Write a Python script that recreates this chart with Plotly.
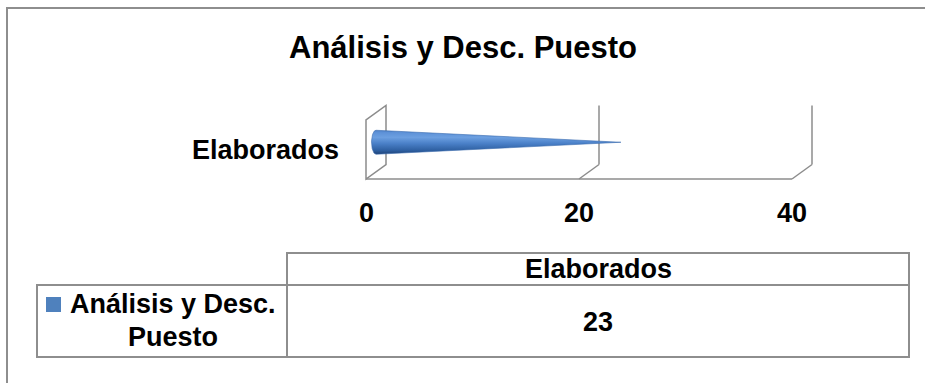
import textwrap

import numpy as np
import plotly.graph_objects as go

# ---- data -------------------------------------------------------------
CHART_TITLE = "Análisis y Desc. Puesto"
categories = ["Elaborados"]
series_name = "Análisis y Desc. Puesto"
values = [23]
x_ticks = [0, 20, 40]
x_tick_labels = ["0", "20", "40"]

# ---- styling ----------------------------------------------------------
W, H = 925, 383
FONT = "Liberation Sans, Arial, sans-serif"
BLUE = "#4F81BD"
GRID = "#8C8C8C"
BORDER = "#8E8E8E"
TXT = "#000000"

# value axis (front plane): pixels per unit and pixel position of zero
PX_PER_UNIT = 10.65
X0_PX = 366
x_range = [(0 - X0_PX) / PX_PER_UNIT, (W - X0_PX) / PX_PER_UNIT]

# category axis measured in pixels, zero on the cone's centre line
Y0_PX = 142.25
y_range = [Y0_PX - H, Y0_PX]

# 3-D box geometry
DEPTH_X = 20 / PX_PER_UNIT
DEPTH_Y = 14.5
HALF_WALL = 29.5
FRONT_C = -DEPTH_Y / 2
BACK_C = DEPTH_Y / 2
CONE_R = 12
CONE_RX = 4.5 / PX_PER_UNIT


def px(p):
    return p / W


def py(p):
    return 1 - p / H


fig = go.Figure()

# cone marks, one per category
for i, (cat, val) in enumerate(zip(categories, values)):
    xb = DEPTH_X / 2
    yc = -i * 2 * HALF_WALL
    theta = np.linspace(np.pi / 2, 3 * np.pi / 2, 40)
    cx = list(xb + CONE_RX * np.cos(theta)) + [xb + val, xb]
    cy = list(yc + CONE_R * np.sin(theta)) + [yc, yc + CONE_R]
    fig.add_trace(go.Scatter(
        x=cx, y=cy, mode="lines", fill="toself",
        line=dict(width=0.6, color="#3A6BAE"),
        fillgradient=dict(
            type="vertical",
            colorscale=[[0.0, "#1E4176"], [0.15, "#2D5E9F"], [0.45, "#4A80C8"],
                        [0.7, "#6C9FE0"], [0.9, "#5E92D8"], [1.0, "#4D80C6"]],
        ),
        hoverinfo="skip", showlegend=False, name=series_name,
    ))

shapes = []
gl = dict(color=GRID, width=1.5)

# left wall at zero
f_bot, f_top = FRONT_C - HALF_WALL, FRONT_C + HALF_WALL
b_bot, b_top = BACK_C - HALF_WALL, BACK_C + HALF_WALL
shapes.append(dict(
    type="path", xref="x", yref="y", layer="below", line=gl,
    path=(f"M {x_ticks[0]},{f_bot} L {x_ticks[0]},{f_top} "
          f"L {x_ticks[0] + DEPTH_X},{b_top} L {x_ticks[0] + DEPTH_X},{b_bot} Z"),
))
# back gridlines and their floor connectors
for t in x_ticks[1:]:
    shapes.append(dict(type="line", xref="x", yref="y", layer="below", line=gl,
                       x0=t + DEPTH_X, x1=t + DEPTH_X, y0=b_bot, y1=b_top))
    shapes.append(dict(type="line", xref="x", yref="y", layer="below", line=gl,
                       x0=t + DEPTH_X, x1=t, y0=b_bot, y1=f_bot))
# front edge of the floor
shapes.append(dict(type="line", xref="x", yref="y", layer="below", line=gl,
                   x0=x_ticks[0], x1=x_ticks[-1], y0=f_bot, y1=f_bot))

# outer chart frame
bl = dict(color=BORDER, width=2)
shapes.append(dict(type="path", xref="paper", yref="paper", line=bl,
                   path=f"M {px(7)},{py(H)} L {px(7)},{py(8)} L {px(W)},{py(8)}"))

# data table
shapes.append(dict(type="rect", xref="paper", yref="paper", line=bl,
                   x0=px(287), x1=px(909), y0=py(253), y1=py(285)))
shapes.append(dict(type="rect", xref="paper", yref="paper", line=bl,
                   x0=px(37), x1=px(909), y0=py(285), y1=py(357)))
shapes.append(dict(type="line", xref="paper", yref="paper", line=bl,
                   x0=px(287), x1=px(287), y0=py(285), y1=py(357)))
# legend key
shapes.append(dict(type="rect", xref="paper", yref="paper", line=dict(width=0),
                   fillcolor=BLUE, x0=px(46), x1=px(61), y0=py(297), y1=py(312)))

ann = []
bold = dict(family=FONT, size=27, color=TXT)
mid = dict(xanchor="center", yanchor="middle", showarrow=False)

# title
ann.append(dict(text=f"<b>{CHART_TITLE}</b>", xref="paper", yref="paper",
                x=px(463), y=py(47), font=dict(family=FONT, size=31, color=TXT), **mid))

# category labels
for i, cat in enumerate(categories):
    ann.append(dict(text=f"<b>{cat}</b>", xref="x", yref="y",
                    x=x_ticks[0], y=FRONT_C - i * 2 * HALF_WALL, xanchor="right",
                    yanchor="middle", xshift=-25, showarrow=False, font=bold))

# value tick labels
for t, lab in zip(x_ticks, x_tick_labels):
    ann.append(dict(text=f"<b>{lab}</b>", xref="x", yref="paper", x=t, y=py(213),
                    font=bold, **mid))

# table header and value cells
for i, (cat, val) in enumerate(zip(categories, values)):
    ann.append(dict(text=f"<b>{cat}</b>", xref="paper", yref="paper",
                    x=px(598), y=py(269), font=bold, **mid))
    ann.append(dict(text=f"<b>{val}</b>", xref="paper", yref="paper",
                    x=px(598), y=py(322), font=bold, **mid))

# series name in the table's first column
name_lines = textwrap.wrap(series_name, 16)
row_y = [304, 337]
for line, yy in zip(name_lines, row_y):
    ann.append(dict(text=f"<b>{line}</b>", xref="paper", yref="paper",
                    x=px(173), y=py(yy), font=bold, **mid))

fig.update_layout(
    width=W, height=H, autosize=False,
    margin=dict(l=0, r=0, t=0, b=0),
    paper_bgcolor="white", plot_bgcolor="white",
    xaxis=dict(range=x_range, visible=False, fixedrange=True),
    yaxis=dict(range=y_range, visible=False, fixedrange=True),
    shapes=shapes, annotations=ann, showlegend=False,
)

fig.write_html("out.html")
